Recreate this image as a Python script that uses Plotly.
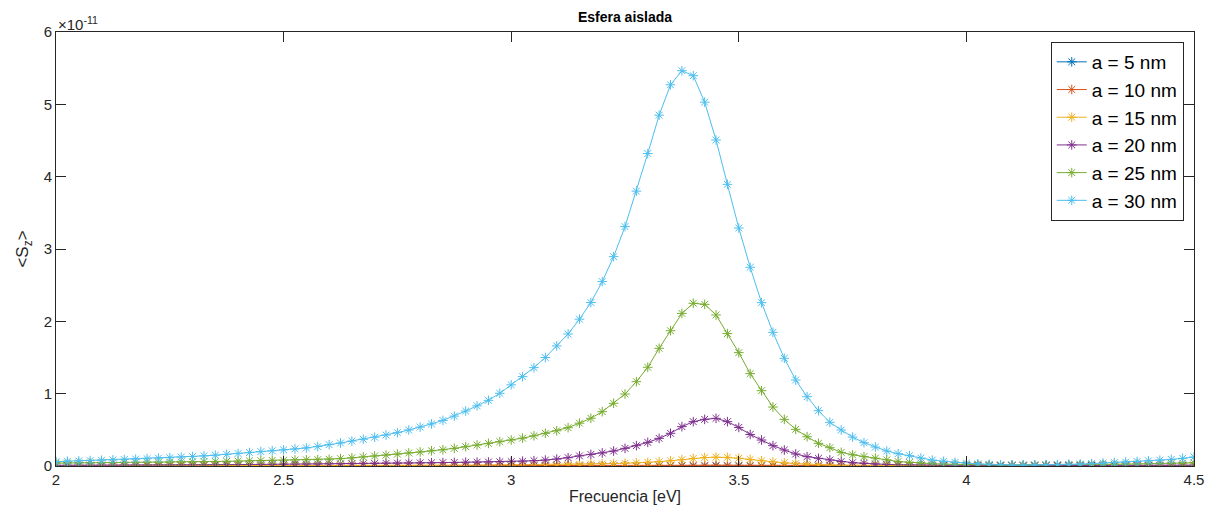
import numpy as np
import plotly.graph_objects as go

# Frequency grid (eV)
freq = np.round(np.linspace(2.0, 4.5, 101), 4)

# <S_z> values in units of 1e-11
s_a5 = [0.00001]*20 + [0.00002]*20 + [0.00003, 0.00003, 0.00004, 0.00004, 0.00005, 0.00006, 0.00007, 0.00008, 0.00009, 0.00010,
        0.00012, 0.00013, 0.00015, 0.00016, 0.00017, 0.00018, 0.00018, 0.00017, 0.00015, 0.00012,
        0.00010, 0.00008, 0.00006, 0.00005, 0.00004, 0.00003, 0.00003, 0.00002, 0.00002, 0.00002] + [0.00001]*31
s_a10 = [0.0002]*10 + [0.0003]*10 + [0.0004]*5 + [0.0005]*5 + [0.0006]*5 + [0.0008, 0.0009, 0.0009, 0.0010, 0.0011,
         0.0012, 0.0013, 0.0014, 0.0015, 0.0017, 0.0019, 0.0021, 0.0024, 0.0027, 0.0031,
         0.0035, 0.0040, 0.0046, 0.0054, 0.0065, 0.0078, 0.0092, 0.0104, 0.0110, 0.0108,
         0.0097, 0.0081, 0.0065, 0.0050, 0.0039, 0.0030, 0.0023, 0.0018, 0.0014, 0.0011,
         0.0009, 0.0008, 0.0007, 0.0006, 0.0005, 0.0005, 0.0004, 0.0004, 0.0003, 0.0003] + [0.0002]*21
s_a15 = [0.002, 0.002, 0.002, 0.002, 0.002, 0.002, 0.003, 0.003, 0.003, 0.003,
         0.003, 0.003, 0.003, 0.004, 0.004, 0.004, 0.004, 0.004, 0.005, 0.005,
         0.005, 0.005, 0.006, 0.006, 0.006, 0.007, 0.007, 0.007, 0.008, 0.008,
         0.009, 0.009, 0.010, 0.010, 0.011, 0.012, 0.012, 0.013, 0.014, 0.015,
         0.016, 0.017, 0.018, 0.019, 0.020, 0.022, 0.024, 0.027, 0.030, 0.034,
         0.038, 0.043, 0.050, 0.060, 0.072, 0.088, 0.104, 0.116, 0.122, 0.120,
         0.108, 0.090, 0.072, 0.056, 0.043, 0.033, 0.025, 0.019, 0.015, 0.012,
         0.010, 0.008, 0.007, 0.006, 0.005, 0.005, 0.004, 0.004, 0.003, 0.003,
         0.003, 0.003, 0.002, 0.002, 0.002, 0.002, 0.002, 0.002, 0.002, 0.002,
         0.002, 0.002, 0.002, 0.002, 0.002, 0.002, 0.002, 0.002, 0.003, 0.003, 0.003]
s_a20 = [0.010, 0.010, 0.011, 0.011, 0.012, 0.012, 0.013, 0.013, 0.014, 0.015,
         0.015, 0.016, 0.017, 0.017, 0.018, 0.019, 0.020, 0.021, 0.022, 0.023,
         0.024, 0.025, 0.026, 0.027, 0.029, 0.030, 0.031, 0.033, 0.035, 0.037,
         0.039, 0.041, 0.043, 0.045, 0.047, 0.049, 0.051, 0.053, 0.055, 0.058,
         0.061, 0.066, 0.073, 0.082, 0.095, 0.115, 0.140, 0.160, 0.180, 0.207,
         0.244, 0.281, 0.327, 0.382, 0.452, 0.544, 0.613, 0.645, 0.659, 0.613,
         0.533, 0.436, 0.359, 0.281, 0.221, 0.166, 0.129, 0.106, 0.083, 0.062,
         0.046, 0.037, 0.027, 0.022, 0.018, 0.015, 0.013, 0.012, 0.011, 0.010,
         0.009, 0.009, 0.008, 0.008, 0.008, 0.008, 0.008, 0.008, 0.008, 0.008,
         0.008, 0.008, 0.009, 0.009, 0.009, 0.010, 0.010, 0.010, 0.011, 0.011, 0.012]
s_a25 = [0.040, 0.041, 0.042, 0.043, 0.044, 0.045, 0.046, 0.048, 0.050, 0.052,
         0.054, 0.056, 0.058, 0.060, 0.062, 0.065, 0.068, 0.071, 0.074, 0.077,
         0.080, 0.083, 0.085, 0.088, 0.093, 0.102, 0.113, 0.125, 0.138, 0.150,
         0.164, 0.180, 0.194, 0.210, 0.224, 0.244, 0.267, 0.290, 0.313, 0.336,
         0.359, 0.385, 0.418, 0.452, 0.487, 0.530, 0.592, 0.660, 0.751, 0.867,
         0.995, 1.166, 1.365, 1.627, 1.870, 2.110, 2.250, 2.235, 2.088, 1.830,
         1.567, 1.277, 1.041, 0.815, 0.645, 0.507, 0.405, 0.313, 0.253, 0.189,
         0.155, 0.129, 0.108, 0.085, 0.062, 0.050, 0.040, 0.032, 0.026, 0.022,
         0.019, 0.017, 0.016, 0.015, 0.015, 0.015, 0.016, 0.016, 0.017, 0.018,
         0.019, 0.020, 0.022, 0.024, 0.026, 0.028, 0.030, 0.033, 0.036, 0.040, 0.044]
s_a30 = [0.060, 0.066, 0.071, 0.075, 0.079, 0.084, 0.089, 0.095, 0.101, 0.108,
         0.115, 0.123, 0.131, 0.140, 0.150, 0.161, 0.173, 0.186, 0.199, 0.211,
         0.223, 0.236, 0.250, 0.268, 0.295, 0.318, 0.345, 0.370, 0.398, 0.428,
         0.461, 0.498, 0.538, 0.582, 0.630, 0.690, 0.760, 0.832, 0.908, 1.005,
         1.122, 1.235, 1.360, 1.500, 1.660, 1.825, 2.030, 2.260, 2.550, 2.894,
         3.310, 3.800, 4.320, 4.850, 5.270, 5.465, 5.396, 5.030, 4.507, 3.894,
         3.290, 2.747, 2.258, 1.848, 1.489, 1.189, 0.958, 0.765, 0.604, 0.498,
         0.400, 0.322, 0.262, 0.207, 0.170, 0.143, 0.110, 0.082, 0.066, 0.050,
         0.040, 0.030, 0.022, 0.017, 0.014, 0.013, 0.014, 0.016, 0.019, 0.023,
         0.027, 0.033, 0.040, 0.047, 0.054, 0.062, 0.071, 0.080, 0.091, 0.106, 0.124]

series_names = ["a = 5 nm", "a = 10 nm", "a = 15 nm", "a = 20 nm", "a = 25 nm", "a = 30 nm"]
series_vals = [s_a5, s_a10, s_a15, s_a20, s_a25, s_a30]
colors = ["#0072BD", "#D95319", "#EDB120", "#7E2F8E", "#77AC30", "#4DBEEE"]
SCALE = 1e-11

y_ticks = [0, 1, 2, 3, 4, 5, 6]
x_ticks = [2, 2.5, 3, 3.5, 4, 4.5]
x_ticktext = ["2", "2.5", "3", "3.5", "4", "4.5"]

FONT = "Liberation Sans, Arial, Helvetica, sans-serif"
AX = "#262626"

fig = go.Figure()
for name, vals, col in zip(series_names, series_vals, colors):
    fig.add_trace(go.Scatter(
        x=freq, y=np.array(vals) * SCALE, name=name, mode="lines+markers",
        line=dict(color=col, width=1),
        marker=dict(symbol="asterisk-open", size=8, color=col,
                    line=dict(color=col, width=1)),
    ))

fig.update_layout(
    width=1217, height=514,
    margin=dict(l=56, r=23, t=32, b=48),
    paper_bgcolor="white", plot_bgcolor="white",
    font=dict(family=FONT, color=AX),
    title=dict(text="<b>Esfera aislada</b>", x=(56 + 1194) / 2 / 1217, xanchor="center",
               y=1 - 17 / 514, yanchor="middle", font=dict(size=14, color="black")),
    showlegend=True,
    legend=dict(x=0.991, xanchor="right", y=0.977, yanchor="top",
                bordercolor=AX, borderwidth=1, bgcolor="white",
                font=dict(size=19, color="black", family=FONT), tracegroupgap=0,
                itemwidth=30),
    xaxis=dict(range=[2, 4.5], tickvals=x_ticks, ticktext=x_ticktext,
               ticks="inside", ticklen=10, tickcolor=AX, mirror="ticks",
               showline=True, linecolor=AX, linewidth=1, showgrid=False, zeroline=False,
               tickfont=dict(size=15, color=AX),
               title=dict(text="Frecuencia [eV]", font=dict(size=16, color=AX), standoff=3)),
    yaxis=dict(range=[0, 6 * SCALE], tickvals=[v * SCALE for v in y_ticks],
               ticktext=[str(v) for v in y_ticks],
               ticks="inside", ticklen=10, tickcolor=AX, mirror="ticks",
               showline=True, linecolor=AX, linewidth=1, showgrid=False, zeroline=False,
               tickfont=dict(size=15, color=AX),
               title=dict(text="&lt;S<sub>z</sub>&gt;", font=dict(size=17, color=AX), standoff=10)),
)

fig.add_annotation(text="×10<sup>-11</sup>", xref="paper", yref="paper", x=0, y=1,
                   xanchor="left", yanchor="bottom", showarrow=False,
                   font=dict(size=15, color=AX, family=FONT), xshift=0, yshift=-3)

fig.write_html("out.html")
